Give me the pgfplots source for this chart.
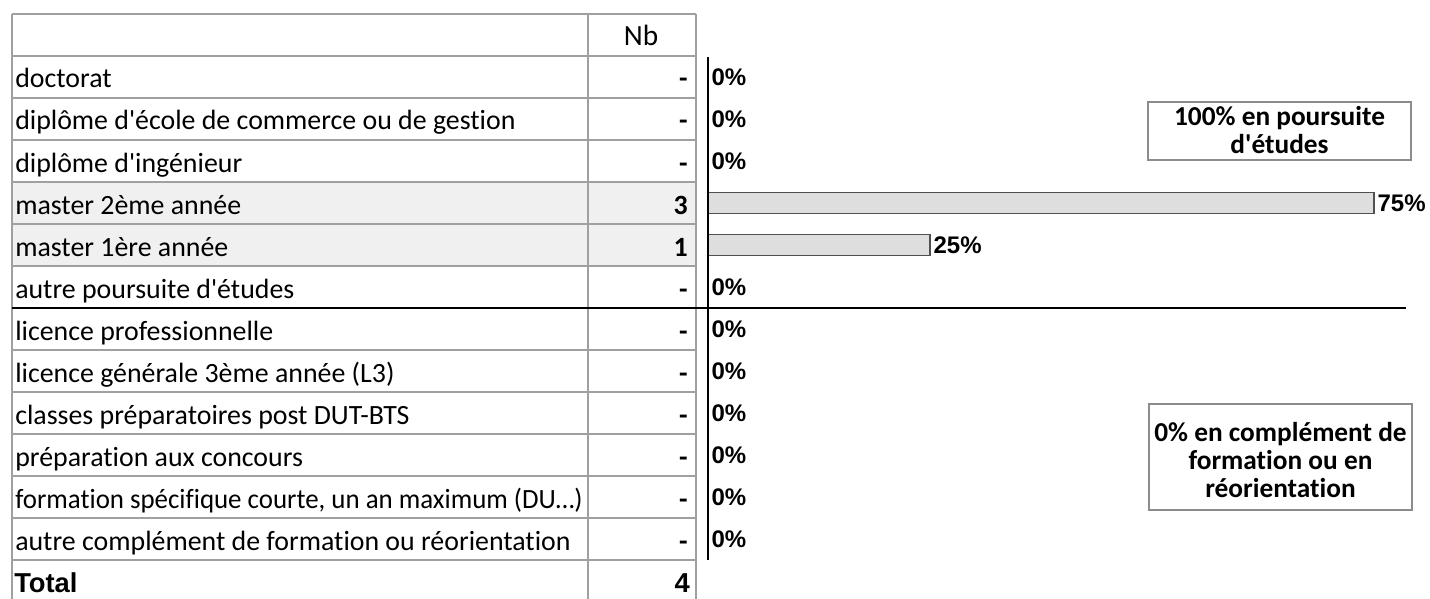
\documentclass[border=0pt]{standalone}
\usepackage{pgfplots}
\pgfplotsset{compat=1.18}
\usepackage{pgfplotstable}
\usepackage{fontspec}
\setmainfont{Carlito}[Ligatures={TeXOff,CommonOff}]
\newfontfamily\arial{Liberation Sans}
\definecolor{gridgray}{HTML}{A0A0A0}
\definecolor{rowshade}{HTML}{F0F0F0}
\definecolor{barfill}{HTML}{DEDEDE}
\definecolor{baredge}{HTML}{505050}
\definecolor{boxgray}{HTML}{8C8C8C}

\pgfplotstableread{
row nb pct
0 0 0
1 0 0
2 0 0
3 3 75
4 1 25
5 0 0
6 0 0
7 0 0
8 0 0
9 0 0
10 0 0
11 0 0
}\data

\begin{document}
\begin{tikzpicture}
\path[use as bounding box] (0,0) rectangle (1072.5pt,-449.25pt);
\begin{scope}[x=0.75pt,y=-0.75pt]
% shaded rows
\fill[rowshade] (12,182) rectangle (696,266);
% grid lines
\foreach \yy in {14,56,98,140,182,224,266,350,392,434,476,518,560}{
  \draw[gridgray, line width=1.2pt] (12,\yy) -- (696,\yy);
}
\draw[gridgray, line width=1.2pt] (12,14) -- (12,600);
\draw[gridgray, line width=1.2pt] (588,14) -- (588,600);
\draw[gridgray, line width=1.2pt] (696,14) -- (696,600);
% header
\node[anchor=base, inner sep=0pt, font=\fontsize{22pt}{25pt}\selectfont] at (641,46) {Nb};
% names
\begin{scope}[every node/.style={anchor=base west, inner sep=0pt, font=\fontsize{20.9pt}{25pt}\selectfont}]
\node at (15,88) {doctorat};
\node at (15,130) {diplôme d'école de commerce ou de gestion};
\node at (15,172) {diplôme d'ingénieur};
\node at (15,214) {master 2ème année};
\node at (15,256) {master 1ère année};
\node at (15,298) {autre poursuite d'études};
\node at (15,340) {licence professionnelle};
\node at (15,382) {licence générale 3ème année (L3)};
\node at (15,424) {classes préparatoires post DUT-BTS};
\node at (15,466) {préparation aux concours};
\node at (15,508) {\scalebox{0.965}[1]{formation spécifique courte, un an maximum (DU…)}};
\node at (15,550) {autre complément de formation ou réorientation};
\end{scope}
% Nb values
\begin{scope}[every node/.style={anchor=base east, inner sep=0pt, font=\fontsize{20.9pt}{25pt}\selectfont\bfseries}]
\node at (688,88) {-};
\node at (688,130) {-};
\node at (688,172) {-};
\node at (688,214) {3};
\node at (688,256) {1};
\node at (688,298) {-};
\node at (688,340) {-};
\node at (688,382) {-};
\node at (688,424) {-};
\node at (688,466) {-};
\node at (688,508) {-};
\node at (688,550) {-};
\end{scope}
% Total
\node[anchor=base west, inner sep=0pt, font=\arial\bfseries\fontsize{20.5pt}{23pt}\selectfont] at (14,592) {Total};
\node[anchor=base east, inner sep=0pt, font=\arial\bfseries\fontsize{20.5pt}{23pt}\selectfont] at (690,592) {4};
% separator
\draw[black, line width=1.5pt] (12,308) -- (1406,308);
% boxes
\draw[boxgray, line width=1.3pt] (1148,102) rectangle (1411,160);
\node[align=center, inner sep=0pt, font=\fontsize{20.5pt}{21pt}\selectfont\bfseries] at (1279.5,130) {100\% en poursuite\\d'études};
\draw[boxgray, line width=1.3pt] (1149,404) rectangle (1412,510);
\node[align=center, inner sep=0pt, font=\fontsize{20.5pt}{21pt}\selectfont\bfseries] at (1280.5,460) {0\% en complément de\\formation ou en\\réorientation};
\end{scope}

\begin{axis}[
  at={(531pt,-42pt)}, anchor=north west,
  scale only axis, width=666pt, height=378pt,
  xmin=0, xmax=100, ymin=-0.5, ymax=11.5, y dir=reverse,
  hide axis, clip=false,
  /pgf/number format/assume math mode=true,
]
\addplot[xbar, bar width=0.5, fill=barfill, draw=baredge, line width=0.8pt,
  nodes near coords={\pgfmathprintnumber{\pgfplotspointmeta}\%},
  point meta=x,
  every node near coord/.append style={font=\arial\bfseries\fontsize{18pt}{20pt}\selectfont, inner sep=2.3pt, black},
] table[x=pct, y=row] {\data};
\draw[black, line width=1.1pt] (axis cs:0,-0.48) -- (axis cs:0,11.5);
\end{axis}
\end{tikzpicture}
\end{document}
